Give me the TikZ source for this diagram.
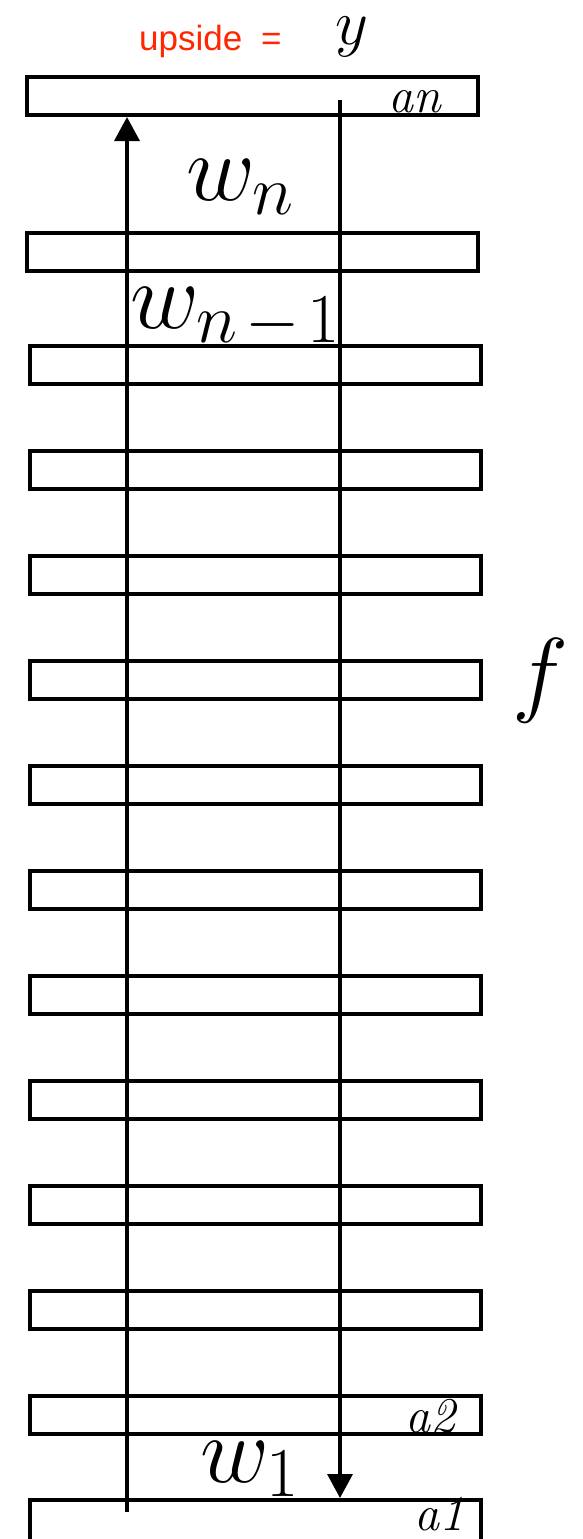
\RequirePackage{fix-cm}
\documentclass[tikz,border=0pt]{standalone}
\usepackage{fontspec}
\newfontfamily\upsidefont{Liberation Sans}
\usepackage{tikz}
\usetikzlibrary{arrows.meta, positioning, calc}
\usepackage{xcolor}
\definecolor{upred}{RGB}{255,38,0}
\DeclareMathSizes{95}{95}{70}{55}

\begin{document}
\begin{tikzpicture}[
    x=1pt, y=-1pt,
    bar/.style={rectangle, draw=black, line width=4pt, minimum width=451pt, minimum height=38pt, inner sep=0pt},
    lbl/.style={font=\fontsize{50}{50}\selectfont\itshape, inner sep=0pt, anchor=base west},
    big/.style={font=\fontsize{95}{95}\selectfont, inner sep=0pt, anchor=base west},
    flow/.style={line width=3.5pt, -{Triangle[length=24pt, width=25pt]}}
]
\useasboundingbox (0,0) rectangle (583,1539);

% layers
\node[bar] (b1) at (252.5,96) {};
\node[bar] (b2) at (252.5,252) {};
\foreach \k in {3,...,13}
    \node[bar] (b\k) at (255.5,{365+105*(\k-3)}) {};
\node[bar, minimum height=42pt] (b14) at (255.5,1521) {};

% layer names
\node[lbl] (an) at (388,112) {an};
\node[lbl] (a2) at (405,1432) {a2};
\node[lbl] (a1) at (414,1530) {a1};

% forward and backward passes
\coordinate (upstart) at (127,1512);
\coordinate (downstart) at (340,100);
\draw[flow] (upstart) -- (upstart |- b1.south);
\draw[flow] (downstart) -- (downstart |- b14.north);

% weights and output
\node[anchor=base west, inner sep=0pt, text=upred, font=\fontsize{35}{35}\selectfont\upsidefont] (upside) at (139,50) {upside\hspace{9pt} =};
\node[anchor=base west, inner sep=0pt, font=\fontsize{64}{64}\selectfont] (out) at (335,44) {$y$};
\node[big] (wn) at (186,200) {$w_n$};
\node[big] (wn1) at (130,328) {$w_{n\mskip2mu-\mskip2mu1}$};
\node[big] (w1) at (200,1482) {$w_1$};
\node[big] (f) at (512,704) {$f$};

\end{tikzpicture}
\end{document}
